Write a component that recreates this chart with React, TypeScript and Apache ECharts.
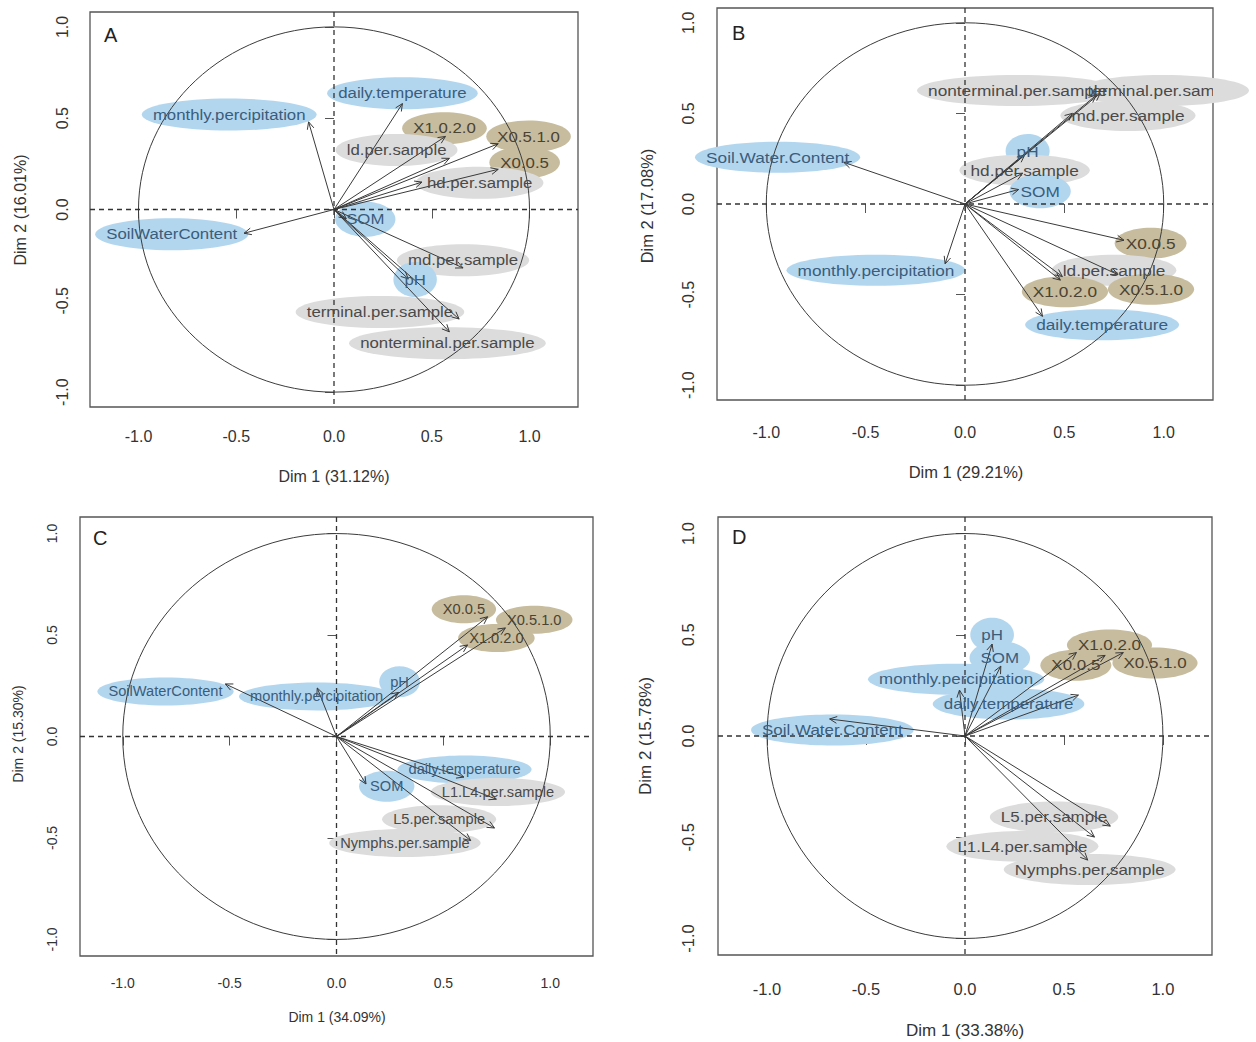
import React, { useEffect, useRef } from "react";
import * as echarts from "echarts";

// ---------------- DATA ----------------
const tickValues = [-1, -0.5, 0, 0.5, 1];

// Panel A
const namesA = ["daily.temperature", "monthly.percipitation", "X1.0.2.0", "ld.per.sample", "X0.5.1.0", "X0.0.5", "hd.per.sample", "SOM", "SoilWaterContent", "md.per.sample", "pH", "terminal.per.sample", "nonterminal.per.sample"];
const dim1A = [0.35, -0.13, 0.57, 0.59, 0.84, 0.84, 0.45, 0.063, -0.46, 0.66, 0.38, 0.64, 0.59];
const dim2A = [0.58, 0.48, 0.4, 0.28, 0.36, 0.22, 0.15, -0.05, -0.13, -0.32, -0.38, -0.6, -0.67];
const labelXA = [0.35, -0.536, 0.565, 0.32, 0.995, 0.975, 0.745, 0.16, -0.83, 0.66, 0.415, 0.235, 0.58];
const labelYA = [0.637, 0.52, 0.445, 0.326, 0.4, 0.258, 0.146, -0.053, -0.135, -0.278, -0.384, -0.562, -0.732];

// Panel B
const namesB = ["nonterminal.per.sample", "terminal.per.sample", "md.per.sample", "pH", "hd.per.sample", "SOM", "Soil.Water.Content", "monthly.percipitation", "X0.0.5", "ld.per.sample", "X1.0.2.0", "X0.5.1.0", "daily.temperature"];
const dim1B = [0.66, 0.68, 0.54, 0.3, 0.29, 0.27, -0.61, -0.1, 0.8, 0.49, 0.48, 0.77, 0.39];
const dim2B = [0.6, 0.61, 0.5, 0.27, 0.17, 0.08, 0.23, -0.33, -0.2, -0.4, -0.42, -0.39, -0.62];
const labelXB = [0.265, 0.995, 0.82, 0.315, 0.3, 0.378, -0.943, -0.448, 0.934, 0.75, 0.503, 0.936, 0.69];
const labelYB = [0.627, 0.627, 0.488, 0.292, 0.186, 0.07, 0.258, -0.366, -0.216, -0.366, -0.484, -0.47, -0.667];

// Panel C
const namesC = ["X0.0.5", "X0.5.1.0", "X1.0.2.0", "SoilWaterContent", "monthly.percipitation", "pH", "daily.temperature", "L1.L4.per.sample", "SOM", "L5.per.sample", "Nymphs.per.sample"];
const dim1C = [0.707, 0.79, 0.613, -0.52, -0.09, 0.29, 0.596, 0.748, 0.138, 0.739, 0.628];
const dim2C = [0.59, 0.535, 0.451, 0.259, 0.239, 0.217, -0.2, -0.309, -0.234, -0.451, -0.513];
const labelXC = [0.596, 0.925, 0.748, -0.8, -0.093, 0.295, 0.599, 0.755, 0.235, 0.48, 0.32];
const labelYC = [0.627, 0.575, 0.485, 0.222, 0.197, 0.27, -0.162, -0.274, -0.245, -0.408, -0.525];

// Panel D
const namesD = ["monthly.percipitation", "daily.temperature", "pH", "SOM", "X1.0.2.0", "X0.0.5", "X0.5.1.0", "Soil.Water.Content", "L5.per.sample", "L1.L4.per.sample", "Nymphs.per.sample"];
const dim1D = [-0.028, 0.573, 0.137, 0.181, 0.708, 0.563, 0.8, -0.684, 0.734, 0.654, 0.62];
const dim2D = [0.227, 0.202, 0.454, 0.345, 0.398, 0.412, 0.412, 0.084, -0.445, -0.499, -0.613];
const labelXD = [-0.045, 0.22, 0.137, 0.176, 0.73, 0.56, 0.96, -0.67, 0.45, 0.29, 0.63];
const labelYD = [0.28, 0.158, 0.5, 0.385, 0.45, 0.35, 0.36, 0.03, -0.4, -0.545, -0.659];

const dimPctA = ["31.12", "16.01"];
const dimPctB = ["29.21", "17.08"];
const dimPctC = ["34.09", "15.30"];
const dimPctD = ["33.38", "15.78"];

const envVars = ["daily.temperature", "monthly.percipitation", "SOM", "SoilWaterContent", "Soil.Water.Content", "pH"];

// ---------------- STYLE / LAYOUT ----------------
const FONT = "'Liberation Sans', Arial, sans-serif";

const panels = [
  { letter: "A", names: namesA, dx: dim1A, dy: dim2A, lx: labelXA, ly: labelYA, pct: dimPctA,
    grid: { left: 90, top: 12, width: 488, height: 395 }, xr: 1.248, yr: 1.0816,
    tickFont: 16, labelFont: 15, sx: 1.12, ry: 16, xm: 21, ym: 20, titleFont: 16,
    xTitle: [334, 476], yTitle: [20, 210], letterPos: [104, 34.5] },
  { letter: "B", names: namesB, dx: dim1B, dy: dim2B, lx: labelXB, ly: labelYB, pct: dimPctB,
    grid: { left: 717, top: 8, width: 496, height: 392 }, xr: 1.248, yr: 1.0816,
    tickFont: 16, labelFont: 15, sx: 1.15, ry: 15.5, xm: 24, ym: 21, titleFont: 16.5,
    xTitle: [966, 472], yTitle: [647, 206], letterPos: [732, 33] },
  { letter: "C", names: namesC, dx: dim1C, dy: dim2C, lx: labelXC, ly: labelYC, pct: dimPctC,
    grid: { left: 80, top: 517, width: 513, height: 439 }, xr: 1.2, yr: 1.0816,
    tickFont: 14, labelFont: 14.5, sx: 1.01, ry: 14, xm: 20, ym: 21, titleFont: 14,
    xTitle: [337, 1017], yTitle: [18, 734], letterPos: [93, 537.5] },
  { letter: "D", names: namesD, dx: dim1D, dy: dim2D, lx: labelXD, ly: labelYD, pct: dimPctD,
    grid: { left: 718, top: 517, width: 494, height: 438 }, xr: 1.248, yr: 1.0816,
    tickFont: 16.5, labelFont: 15, sx: 1.13, ry: 15.5, xm: 25, ym: 22, titleFont: 17,
    xTitle: [965, 1030], yTitle: [645, 736], letterPos: [732, 537] },
];

function groupOf(name: string) {
  if (name.charAt(0) === "X") return "size";
  if (envVars.indexOf(name) >= 0) return "env";
  return "stage";
}
const ellipseFill: Record<string, string> = { env: "#b3d6ef", stage: "#dcdcdc", size: "#c7bc9e" };
const textFill: Record<string, string> = { env: "#3a5d7c", stage: "#4a4a4a", size: "#4b4332" };

let measureCtx: CanvasRenderingContext2D | null = null;
function textWidth(t: string, size: number) {
  if (!measureCtx) measureCtx = document.createElement("canvas").getContext("2d");
  if (!measureCtx) return t.length * size * 0.5;
  measureCtx.font = `${size}px 'Liberation Sans', Arial, sans-serif`;
  return measureCtx.measureText(t).width;
}

function buildOption() {
  const grid: any[] = [];
  const xAxis: any[] = [];
  const yAxis: any[] = [];
  const series: any[] = [];
  const graphic: any[] = [];

  panels.forEach((P, i) => {
    grid.push({ ...P.grid, show: true, borderColor: "#555", borderWidth: 1.3, backgroundColor: "transparent", containLabel: false });
    const common = {
      type: "value",
      gridIndex: i,
      axisLine: { show: false },
      splitLine: { show: false },
      axisTick: { show: true, inside: false, length: 9, lineStyle: { color: "#555", width: 1 }, customValues: tickValues },
    };
    xAxis.push({
      ...common, min: -P.xr, max: P.xr,
      axisLabel: { customValues: tickValues, formatter: (v: number) => v.toFixed(1), margin: P.xm, fontSize: P.tickFont, fontFamily: FONT, color: "#333" },
    });
    yAxis.push({
      ...common, min: -P.yr, max: P.yr,
      axisLabel: { customValues: tickValues, formatter: (v: number) => v.toFixed(1), rotate: 90, margin: P.ym, fontSize: P.tickFont, fontFamily: FONT, color: "#333" },
    });

    const labelData = P.names.map((n, k) => [P.lx[k], P.ly[k], k]);
    const arrowData = P.names.map((n, k) => [P.dx[k], P.dy[k], k]);

    // labels running past the right edge of the plot box are clipped (as in R)
    const rightEdge = P.grid.left + P.grid.width;
    const overflowRight = (k: number) => {
      const px = P.grid.left + ((P.lx[k] + P.xr) / (2 * P.xr)) * P.grid.width;
      return px + (textWidth(P.names[k], P.labelFont) * P.sx) / 2 > rightEdge;
    };
    const clippedLabels = labelData.filter((d) => overflowRight(d[2] as number));
    const freeLabels = labelData.filter((d) => !overflowRight(d[2] as number));

    // label ellipses
    series.push({
      type: "custom", xAxisIndex: i, yAxisIndex: i, z: 1, clip: false, silent: true,
      data: labelData,
      renderItem: (params: any, api: any) => {
        const k = api.value(2);
        const name = P.names[k];
        const p = api.coord([api.value(0), api.value(1)]);
        const w = textWidth(name, P.labelFont) * P.sx;
        const short = name.length <= 3;
        const ry = short ? P.ry + 1.5 : P.ry;
        const rx = Math.max(w / 2 + 11, ry + 4);
        return { type: "ellipse", shape: { cx: p[0], cy: p[1], rx, ry }, style: { fill: ellipseFill[groupOf(name)], stroke: null } };
      },
    });

    // unit circle + dashed zero lines
    series.push({
      type: "custom", xAxisIndex: i, yAxisIndex: i, z: 2, clip: false, silent: true,
      data: [[0, 0]],
      renderItem: (params: any, api: any) => {
        const o = api.coord([0, 0]);
        const px = api.coord([1, 0]);
        const py = api.coord([0, 1]);
        const cs = params.coordSys;
        return {
          type: "group",
          children: [
            { type: "ellipse", shape: { cx: o[0], cy: o[1], rx: px[0] - o[0], ry: o[1] - py[1] }, style: { fill: "none", stroke: "#3c3c3c", lineWidth: 1 } },
            { type: "line", shape: { x1: o[0], y1: cs.y, x2: o[0], y2: cs.y + cs.height }, style: { stroke: "#333", lineWidth: 1.3, lineDash: [5, 4], fill: "none" } },
            { type: "line", shape: { x1: cs.x, y1: o[1], x2: cs.x + cs.width, y2: o[1] }, style: { stroke: "#333", lineWidth: 1.3, lineDash: [5, 4], fill: "none" } },
          ],
        };
      },
    });

    // arrows
    series.push({
      type: "custom", xAxisIndex: i, yAxisIndex: i, z: 3, clip: false, silent: true,
      data: arrowData,
      renderItem: (params: any, api: any) => {
        const o = api.coord([0, 0]);
        const e = api.coord([api.value(0), api.value(1)]);
        const ang = Math.atan2(e[1] - o[1], e[0] - o[0]);
        const L = 8;
        const a = (25 * Math.PI) / 180;
        const h1 = [e[0] - L * Math.cos(ang - a), e[1] - L * Math.sin(ang - a)];
        const h2 = [e[0] - L * Math.cos(ang + a), e[1] - L * Math.sin(ang + a)];
        return {
          type: "group",
          children: [
            { type: "line", shape: { x1: o[0], y1: o[1], x2: e[0], y2: e[1] }, style: { stroke: "#3a3a3a", lineWidth: 1, fill: "none" } },
            { type: "polyline", shape: { points: [h1, e, h2] }, style: { stroke: "#3a3a3a", lineWidth: 1, fill: "none" } },
          ],
        };
      },
    });

    // label texts
    const textRender = (params: any, api: any) => {
      const k = api.value(2);
      const name = P.names[k];
      const p = api.coord([api.value(0), api.value(1)]);
      return {
        type: "text", x: p[0], y: p[1], scaleX: P.sx, scaleY: 1,
        style: { text: name, x: 0, y: 0, align: "center", verticalAlign: "middle", fill: textFill[groupOf(name)], fontSize: P.labelFont, fontFamily: FONT },
      };
    };
    series.push({ type: "custom", xAxisIndex: i, yAxisIndex: i, z: 4, clip: false, silent: true, data: freeLabels, renderItem: textRender });
    if (clippedLabels.length) {
      series.push({ type: "custom", xAxisIndex: i, yAxisIndex: i, z: 4, clip: true, silent: true, data: clippedLabels, renderItem: textRender });
    }

    // titles and letters
    graphic.push({
      type: "text", x: P.xTitle[0], y: P.xTitle[1],
      style: { text: `Dim 1 (${P.pct[0]}%)`, align: "center", verticalAlign: "middle", fill: "#333", fontSize: P.titleFont, fontFamily: FONT },
    });
    graphic.push({
      type: "text", x: P.yTitle[0], y: P.yTitle[1], rotation: Math.PI / 2,
      style: { text: `Dim 2 (${P.pct[1]}%)`, align: "center", verticalAlign: "middle", fill: "#333", fontSize: P.titleFont, fontFamily: FONT },
    });
    graphic.push({
      type: "text", x: P.letterPos[0], y: P.letterPos[1],
      style: { text: P.letter, align: "left", verticalAlign: "middle", fill: "#222", fontSize: 20, fontFamily: FONT },
    });
  });

  return { animation: false, backgroundColor: "#ffffff", grid, xAxis, yAxis, series, graphic };
}

export default function App() {
  const ref = useRef<HTMLDivElement>(null);
  useEffect(() => {
    if (!ref.current) return;
    const chart = echarts.init(ref.current, undefined, { renderer: "svg" });
    chart.setOption(buildOption() as any);
    return () => chart.dispose();
  }, []);
  return <div ref={ref} style={{ position: "absolute", left: 0, top: 0, width: 1256, height: 1042 }} />;
}
